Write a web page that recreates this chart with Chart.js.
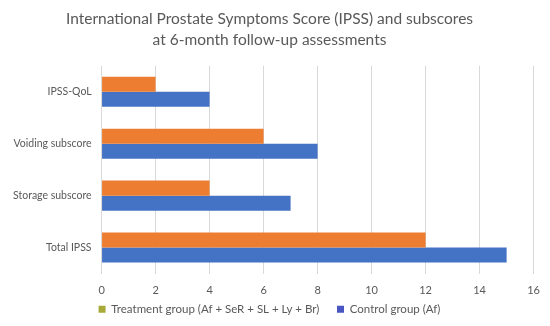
<!DOCTYPE html>
<html>
<head>
<meta charset="utf-8">
<script src="https://cdn.jsdelivr.net/npm/chart.js@4"></script>
<style>
  html, body { margin: 0; padding: 0; background: #fff; }
  #wrap { width: 550px; height: 326px; }
</style>
</head>
<body>
<div id="wrap"><canvas id="chart" width="550" height="326"></canvas></div>
<script>
const categories = ['IPSS-QoL', 'Voiding subscore', 'Storage subscore', 'Total IPSS'];
const treatmentValues = [2, 6, 4, 12];
const controlValues = [4, 8, 7, 15];
const seriesNames = ['Treatment group (Af + SeR + SL + Ly + Br)', 'Control group (Af)'];
const xTicks = [0, 2, 4, 6, 8, 10, 12, 14, 16];

// legend swatches differ a bit from the bar fill in the original
const legendColors = ['#a9a93a', '#4a55c4'];

const ctx = document.getElementById('chart').getContext('2d');
const chart = new Chart(ctx, {
    type: 'bar',
    data: {
        labels: categories,
        datasets: [
            {
                label: seriesNames[0],
                data: treatmentValues,
                backgroundColor: '#ed7d31',
            },
            {
                label: seriesNames[1],
                data: controlValues,
                backgroundColor: '#4472c4',
            }
        ]
    },
    options: {
        indexAxis: 'y',
        responsive: false,
        animation: false,
        layout: { padding: { left: 3, right: 14, top: 4, bottom: 1 } },
        datasets: {
            bar: { barPercentage: 1, categoryPercentage: 0.58 }
        },
        scales: {
            x: {
                min: 0,
                max: 16,
                afterBuildTicks: (axis) => { axis.ticks = xTicks.map(v => ({ value: v })); },
                afterFit: (axis) => { axis.height = 24; },
                grid: { color: '#d9d9d9', drawTicks: false },
                border: { display: false },
                ticks: { color: '#595959', font: { family: 'Lato', size: 11 }, padding: 10 }
            },
            y: {
                grid: { display: false, drawTicks: false },
                border: { display: false },
                ticks: { color: '#595959', font: { family: 'Lato', size: 10.5 }, padding: 10 }
            }
        },
        plugins: {
            title: {
                display: true,
                text: ['International Prostate Symptoms Score (IPSS) and subscores', 'at 6-month follow-up assessments'],
                color: '#595959',
                font: { family: 'Lato', size: 15.5, weight: 'normal', lineHeight: 1.35 },
                padding: { top: 4.5, bottom: 15.5 },
                align: 'center'
            },
            legend: {
                position: 'bottom',
                labels: {
                    color: '#595959',
                    font: { family: 'Lato', size: 11.5 },
                    boxWidth: 7,
                    boxHeight: 7,
                    padding: 6,
                    // trailing spaces widen the gap between the two items like the original
                    generateLabels: (c) => c.data.datasets.map((d, i) => ({
                        text: i === 0 ? d.label + '    ' : d.label,
                        fillStyle: legendColors[i],
                        strokeStyle: legendColors[i],
                        lineWidth: 0,
                        fontColor: '#595959',
                        datasetIndex: i,
                        hidden: false
                    }))
                }
            },
            tooltip: { enabled: false }
        }
    }
});
</script>
</body>
</html>
